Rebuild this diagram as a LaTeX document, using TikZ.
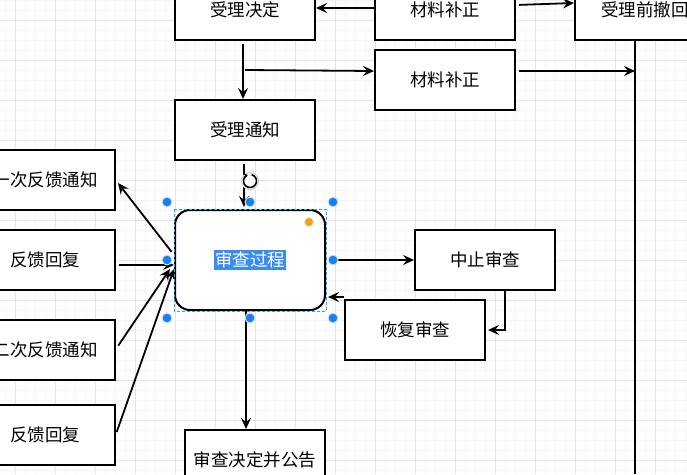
\documentclass[tikz,border=0pt]{standalone}
\usepackage{fontspec}
\setmainfont{Noto Sans CJK SC}
\usetikzlibrary{arrows.meta,calc}
\definecolor{gridminor}{HTML}{F4F4F4}
\definecolor{gridmajor}{HTML}{E4E4E4}
\definecolor{selblue}{HTML}{3C8CF0}
\definecolor{handleblue}{HTML}{1282F6}
\definecolor{selline}{HTML}{29A8F0}
\definecolor{orangeh}{HTML}{F5A000}
\begin{document}
\begin{tikzpicture}[x=1pt,y=-1pt,
  box/.style={draw=black, line width=2pt, fill=white, minimum width=140pt, minimum height=60pt, inner sep=0pt, font=\fontsize{17.5pt}{20pt}\selectfont},
  arr/.style={draw=black, line width=1.8pt, -{Stealth[length=11pt,width=10pt,inset=4pt]}},
  ln/.style={draw=black, line width=1.8pt},
  hdl/.style={circle, fill=handleblue, draw=white!88!black, line width=1pt, minimum size=10pt, inner sep=0pt}]
\useasboundingbox (0,0) rectangle (687,474);
\clip (0,0) rectangle (687,474);
\fill[white] (0,0) rectangle (687,474);
% grid
\foreach \x in {5.7,15.7,...,686} \draw[gridminor, line width=1pt] (\x,0) -- (\x,474);
\foreach \y in {0,10,...,470} \draw[gridminor, line width=1pt] (0,\y) -- (687,\y);
\foreach \x in {15.7,55.7,...,686} \draw[gridmajor, line width=1pt] (\x,0) -- (\x,474);
\foreach \y in {20,60,...,470} \draw[gridmajor, line width=1pt] (0,\y) -- (687,\y);

% nodes
\node[box] (jd)  at (245,10)  {受理决定};
\node[box] (bz1) at (445,10)  {材料补正};
\node[box] (ch)  at (645,10)  {受理前撤回};
\node[box] (bz2) at (445,80)  {材料补正};
\node[box] (tz)  at (245,130) {受理通知};
\node[box] (fk1) at (45,180)  {一次反馈通知};
\node[box] (hf1) at (45,260)  {反馈回复};
\node[box] (fk2) at (45,350)  {二次反馈通知};
\node[box] (hf2) at (45,435)  {反馈回复};
\node[box, minimum width=150pt, minimum height=100pt, rounded corners=15pt] (sc) at (250,260) {};
\node[box] (zz)  at (485,260) {中止审查};
\node[box] (hf)  at (415,330) {恢复审查};
\node[box] (jg)  at (255,460) {审查决定并公告};

% connectors
\coordinate (br) at (245,70);
\coordinate (vtop) at ([xshift=-10pt]ch.south);
\coordinate (vbot) at (635,474);
\draw[arr] ([yshift=2pt]bz1.west) -- ([yshift=2pt]jd.east);
\draw[arr, shorten <=3pt] ([yshift=5pt]bz1.east) -- ([yshift=7pt]ch.west);
\draw[arr, shorten <=3pt] ([xshift=-2pt]jd.south) -- ([xshift=-2pt]jd.south |- tz.north);
\draw[arr] (br) -- ([yshift=9pt]bz2.west);
\draw[ln] (vtop) -- (vbot);
\draw[arr, shorten <=3pt] ([yshift=9pt]bz2.east) -- ([yshift=9pt]bz2.east -| vtop);
\draw[arr, shorten <=3pt, shorten >=2pt] ([xshift=-1pt]tz.south) -- ([xshift=-1pt]tz.south |- sc.north);
\draw[arr, shorten <=4pt] ([yshift=5pt]sc.west) -- ([xshift=2pt,yshift=-3pt]fk1.east);
\draw[arr, shorten <=3pt] ([yshift=-5pt]hf1.east) -- ([yshift=-5pt]sc.west);
\draw[arr, shorten <=4pt] ([yshift=1pt]fk2.east) -- ([xshift=-4pt,yshift=-9pt]sc.west);
\draw[arr, shorten <=2pt] ([yshift=1pt]hf2.east) -- ([yshift=-9pt]sc.west);
\draw[arr, shorten <=8pt] (sc.east) -- (zz.west);
\draw[arr, shorten >=2pt] ([xshift=20pt]zz.south) |- (hf.east);
\draw[arr, shorten >=2pt] ([yshift=2pt]hf.north west) -- ([yshift=2pt]hf.north west -| sc.east);
\draw[arr] ([xshift=-4pt]sc.south) -- ([xshift=-4pt]sc.south |- jg.north);

% selection overlay
\draw[selline, line width=1pt, dash pattern=on 3pt off 2pt] (sc.north west) rectangle (sc.south east);
\node[fill=selblue, text=white, inner xsep=1pt, inner ysep=2pt, font=\fontsize{17.5pt}{20pt}\selectfont] (sclabel) at (250,260) {审查过程};
\node[hdl] (h1) at (167,202) {};
\node[hdl] (h2) at (250,202) {};
\node[hdl] (h3) at (333,202) {};
\node[hdl] (h4) at (167,260) {};
\node[hdl] (h5) at (333,260) {};
\node[hdl] (h6) at (167,318) {};
\node[hdl] (h7) at (250,318) {};
\node[hdl] (h8) at (333,318) {};
\node[circle, fill=orangeh, draw=white!88!black, line width=1pt, minimum size=9pt, inner sep=0pt] (ho) at (309,222) {};
% rotate handle
\fill[white] (250,181) circle (8.5);
\draw[gray!40, line width=1pt] (250,181) circle (8.5);
\draw[line width=1.6pt, -{Stealth[length=3.5pt,width=5pt]}] (250,181) ++(-75:6.5) arc[start angle=-75, end angle=250, radius=6.5];
\end{tikzpicture}
\end{document}
